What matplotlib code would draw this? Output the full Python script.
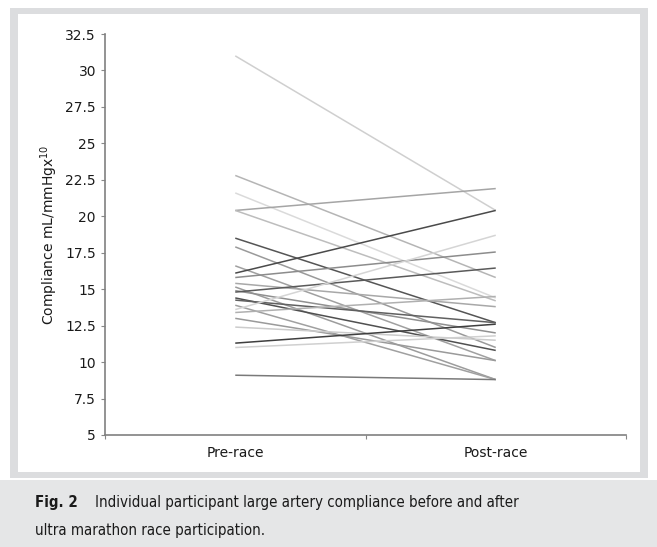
import matplotlib
matplotlib.use("Agg")
import matplotlib.pyplot as plt
from matplotlib.patches import Rectangle

categories = ["Pre-race", "Post-race"]
pre_values = [31.0, 22.8, 21.6, 20.4, 20.4, 18.5, 17.9, 16.6, 16.1, 15.8, 15.4, 15.15,
              14.9, 14.8, 14.4, 14.25, 13.9, 13.6, 13.4, 13.0, 12.4, 11.3, 11.0, 9.1]
post_values = [20.4, 15.8, 14.4, 21.9, 14.2, 12.7, 11.0, 10.1, 20.4, 17.55, 13.8, 8.8,
               12.0, 16.45, 10.8, 12.7, 8.8, 18.7, 14.5, 10.1, 11.5, 12.6, 11.8, 8.8]
line_greys = ["#cfcfcf", "#b5b5b5", "#dadada", "#a5a5a5", "#bdbdbd", "#555555", "#9a9a9a",
              "#a0a0a0", "#4a4a4a", "#8c8c8c", "#a8a8a8", "#9c9c9c", "#909090", "#5a5a5a",
              "#505050", "#606060", "#a0a0a0", "#d5d5d5", "#b0b0b0", "#9a9a9a", "#cccccc",
              "#3f3f3f", "#d0d0d0", "#7a7a7a"]
y_ticks = [5, 7.5, 10, 12.5, 15, 17.5, 20, 22.5, 25, 27.5, 30, 32.5]
y_tick_labels = ["5", "7.5", "10", "12.5", "15", "17.5", "20", "22.5", "25", "27.5", "30", "32.5"]

W, H = 657, 547
fig = plt.figure(figsize=(W / 100, H / 100), dpi=100)
fig.patch.set_facecolor("white")

# frame and caption background
fig.patches.append(Rectangle((10 / W, 1 - 478 / H), 638 / W, 470 / H, transform=fig.transFigure,
                             facecolor="#dcdddf", edgecolor="none", zorder=-3))
fig.patches.append(Rectangle((18 / W, 1 - 472 / H), 622 / W, 458 / H, transform=fig.transFigure,
                             facecolor="white", edgecolor="none", zorder=-2))
fig.patches.append(Rectangle((0, 0), 1, (H - 480) / H, transform=fig.transFigure,
                             facecolor="#e5e6e7", edgecolor="none", zorder=-2))

ax = fig.add_axes([105 / W, 1 - 435 / H, 521 / W, 401 / H])
ax.set_zorder(2)
ax.set_facecolor("none")
xpos = [0.5, 1.5]
for p, q, c in zip(pre_values, post_values, line_greys):
    ax.plot(xpos, [p, q], color=c, lw=1.1, solid_capstyle="butt")

ax.set_xlim(0, 2)
ax.set_ylim(5, 32.5)
ax.set_yticks(y_ticks)
ax.set_yticklabels(y_tick_labels)
ax.set_xticks([0, 1, 2])
ax.set_xticklabels(["", "", ""])
ax.set_xticks(xpos, minor=True)
ax.set_xticklabels(categories, minor=True)
ax.tick_params(axis="x", which="minor", length=0, pad=8, labelsize=10, labelcolor="#1a1a1a")
ax.tick_params(axis="x", which="major", length=3, color="#888888", direction="out")
ax.tick_params(axis="y", length=3, color="#888888", labelsize=10, labelcolor="#1a1a1a")
for lbl in ax.get_xticklabels(minor=True) + ax.get_yticklabels():
    lbl.set_fontweight("medium")
for s in ["top", "right"]:
    ax.spines[s].set_visible(False)
for s in ["left", "bottom"]:
    ax.spines[s].set_color("#808080")
    ax.spines[s].set_linewidth(1.2)
ax.set_ylabel("Compliance mL/mmHgx$^{10}$", fontsize=10, color="#1a1a1a", labelpad=4)

cap_kw = dict(family="DejaVu Sans", fontstretch="condensed", color="#1a1a1a",
              va="center", ha="left", fontsize=10.8)
fig.text(35 / W, 1 - 503 / H, "Fig. 2", fontweight="bold", **cap_kw)
fig.text(95 / W, 1 - 503 / H, "Individual participant large artery compliance before and after",
         **cap_kw)
fig.text(35 / W, 1 - 530 / H, "ultra marathon race participation.", **cap_kw)

fig.savefig("out.png", dpi=100)
